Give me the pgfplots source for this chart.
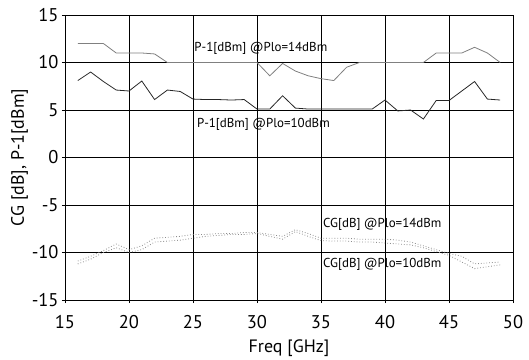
\documentclass[border=0pt]{standalone}
\usepackage{pgfplots}
\pgfplotsset{compat=1.18}
\usepackage{fontspec}
\setmainfont{PT Sans}
\begin{document}
\begin{tikzpicture}
\begin{axis}[
  scale only axis,
  width=448bp, height=285bp,
  xmin=15, xmax=50, ymin=-15, ymax=15,
  xtick={15,20,...,50}, ytick={-15,-10,...,15},
  grid=major,
  major grid style={black, line width=0.7pt},
  axis line style={black, line width=0.8pt},
  tick style={black, line width=0.8pt},
  tick align=center,
  major tick length=6bp,
  xtick pos=left, ytick pos=left,
  tick label style={font=\fontsize{18.5}{20}\selectfont},
  xticklabel style={yshift=-9bp},
  /pgf/number format/assume math mode=true,
  label style={font=\fontsize{18}{20}\selectfont},
  xlabel={Freq [GHz]},
  ylabel={CG [dB], P-1[dBm]},
  xlabel style={yshift=-4bp},
  ylabel style={yshift=-3bp},
]
% P-1 @Plo=14dBm
\addplot[gray, line width=0.8pt] coordinates {
(16,12) (17,12) (18,12) (19,11) (20,11) (21,11) (22,10.9) (23,10) (24,10) (25,10)
(26,10) (27,10) (28,10) (29,10) (30,10) (31,8.6) (32,9.9) (33,9.1) (34,8.6) (35,8.3)
(36,8.1) (37,9.5) (38,10) (39,10) (40,10) (41,10) (42,10) (43,10) (44,11) (45,11)
(46,11) (47,11.6) (48,11) (49,10)};
% P-1 @Plo=10dBm
\addplot[black!85, line width=0.8pt] coordinates {
(16,8.1) (17,9) (18,8) (19,7.1) (20,7) (21,8.05) (22,6.1) (23,7.1) (24,6.95) (25,6.15)
(26,6.1) (27,6.1) (28,6.05) (29,6.1) (30,5.1) (31,5.1) (32,6.5) (33,5.2) (34,5.1) (35,5.1)
(36,5.1) (37,5.1) (38,5.1) (39,5.1) (40,6.05) (41,4.9) (42,5) (43,4.05) (44,6) (45,6)
(46,7) (47,8) (48,6.15) (49,6.05)};
% CG @Plo=14dBm
\addplot[gray!90, line width=0.8pt, dotted] coordinates {
(16,-10.9) (17,-10.4) (18,-9.8) (19,-9.1) (20,-9.7) (21,-9.3) (22,-8.5) (23,-8.4) (24,-8.3) (25,-8.1)
(26,-8.1) (27,-8.0) (28,-8.0) (29,-7.9) (30,-7.9) (31,-8.1) (32,-8.3) (33,-7.6) (34,-8.0) (35,-8.5)
(36,-8.5) (37,-8.5) (38,-8.6) (39,-8.6) (40,-8.6) (41,-8.7) (42,-8.9) (43,-9.3) (44,-9.7) (45,-10.1)
(46,-10.4) (47,-11.2) (48,-11.1) (49,-11.0)};
% CG @Plo=10dBm
\addplot[gray!90, line width=0.8pt, dotted] coordinates {
(16,-11.2) (17,-10.7) (18,-10.0) (19,-9.5) (20,-10.0) (21,-9.7) (22,-8.9) (23,-8.8) (24,-8.7) (25,-8.5)
(26,-8.3) (27,-8.2) (28,-8.1) (29,-8.1) (30,-8.0) (31,-8.3) (32,-8.6) (33,-7.8) (34,-8.3) (35,-8.75)
(36,-8.8) (37,-8.8) (38,-8.9) (39,-8.9) (40,-9.0) (41,-9.1) (42,-9.2) (43,-9.5) (44,-9.9) (45,-10.3)
(46,-11.0) (47,-11.7) (48,-11.5) (49,-11.3)};
\node[anchor=west, inner sep=0pt, font=\fontsize{13}{15}\selectfont] at (axis cs:25.1,11.5) {P-1[dBm] @Plo=14dBm};
\node[anchor=west, inner sep=0pt, font=\fontsize{13}{15}\selectfont] at (axis cs:25.3,3.5) {P-1[dBm] @Plo=10dBm};
\node[anchor=west, inner sep=0pt, font=\fontsize{13}{15}\selectfont] at (axis cs:35.15,-7.0) {CG[dB] @Plo=14dBm};
\node[anchor=west, inner sep=0pt, font=\fontsize{13}{15}\selectfont] at (axis cs:35.15,-11.2) {CG[dB] @Plo=10dBm};
\end{axis}
\pgfresetboundingbox
\path ([shift={(-65bp,-60bp)}]current axis.south west) rectangle ([shift={(16bp,15bp)}]current axis.north east);
\end{tikzpicture}
\end{document}
